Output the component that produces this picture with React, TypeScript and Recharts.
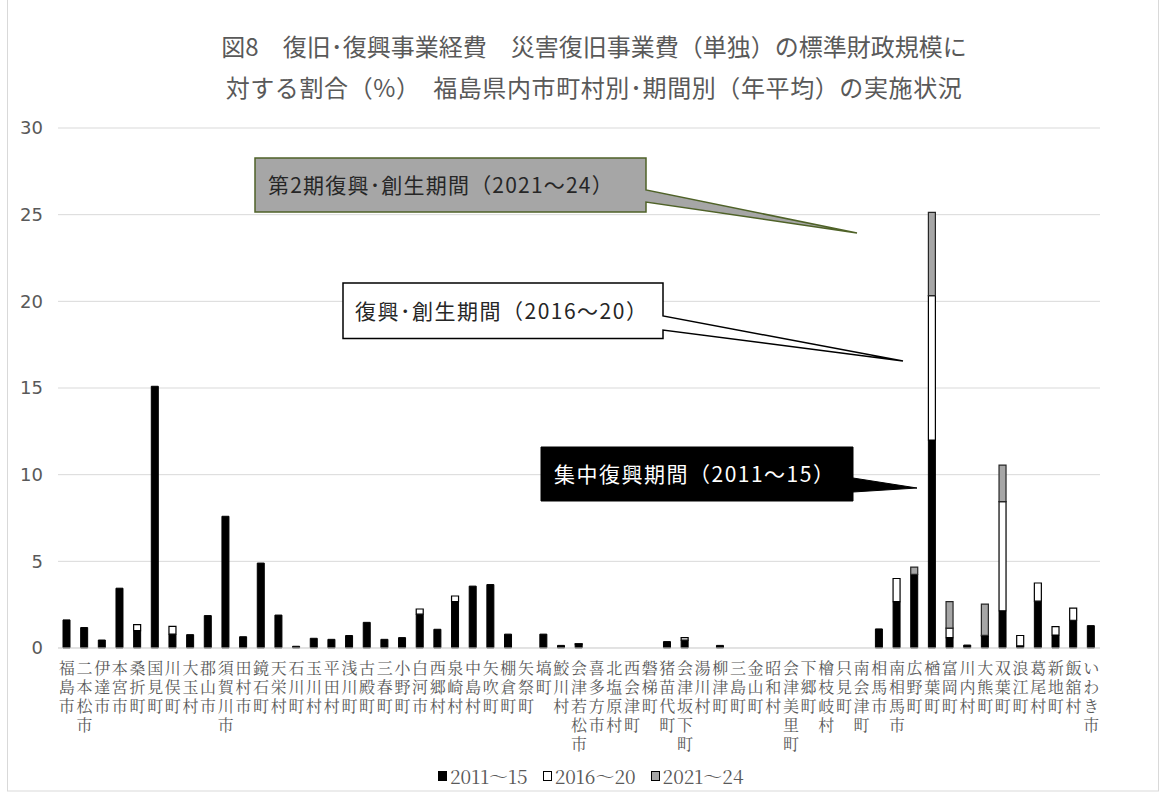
import React from 'react';
import { BarChart, Bar, XAxis, YAxis, CartesianGrid } from 'recharts';

// 市町村（X軸カテゴリ）
const municipalities = [
  '福島市', '二本松市', '伊達市', '本宮市', '桑折町', '国見町', '川俣町', '大玉村',
  '郡山市', '須賀川市', '田村市', '鏡石町', '天栄村', '石川町', '玉川村', '平田村',
  '浅川町', '古殿町', '三春町', '小野町', '白河市', '西郷村', '泉崎村', '中島村',
  '矢吹町', '棚倉町', '矢祭町', '塙町', '鮫川村', '会津若松市', '喜多方市', '北塩原村',
  '西会津町', '磐梯町', '猪苗代町', '会津坂下町', '湯川村', '柳津町', '三島町', '金山町',
  '昭和村', '会津美里町', '下郷町', '檜枝岐村', '只見町', '南会津町', '相馬市', '南相馬市',
  '広野町', '楢葉町', '富岡町', '川内村', '大熊町', '双葉町', '浪江町', '葛尾村',
  '新地町', '飯舘村', 'いわき市',
];

// 集中復興期間（2011～15）
const period2011 = [
  1.62, 1.18, 0.46, 3.45, 1.0, 15.1, 0.8, 0.77,
  1.87, 7.6, 0.65, 4.9, 1.9, 0.1, 0.56, 0.5,
  0.72, 1.48, 0.5, 0.6, 1.95, 1.08, 2.67, 3.57,
  3.66, 0.8, 0, 0.8, 0.15, 0.2, 0, 0,
  0, 0, 0.37, 0.45, 0, 0.15, 0, 0,
  0, 0, 0, 0, 0, 0, 1.1, 2.68,
  4.25, 12.0, 0.6, 0.17, 0.7, 2.15, 0.12, 2.7,
  0.75, 1.6, 1.29,
];

// 復興・創生期間（2016～20）
const period2016 = [
  0, 0, 0, 0, 0.35, 0, 0.45, 0,
  0, 0, 0, 0, 0, 0, 0, 0,
  0, 0, 0, 0, 0.3, 0, 0.33, 0,
  0, 0, 0, 0, 0, 0.05, 0, 0,
  0, 0, 0, 0.15, 0, 0, 0, 0,
  0, 0, 0, 0, 0, 0, 0, 1.33,
  0, 8.33, 0.55, 0, 0.03, 6.3, 0.6, 1.05,
  0.48, 0.7, 0,
];

// 第2期復興・創生期間（2021～24）
const period2021 = [
  0, 0, 0, 0, 0, 0, 0, 0,
  0, 0, 0, 0, 0, 0, 0, 0,
  0, 0, 0, 0, 0, 0, 0, 0,
  0, 0, 0, 0, 0, 0, 0, 0,
  0, 0, 0, 0, 0, 0, 0, 0,
  0, 0, 0, 0, 0, 0, 0, 0,
  0.42, 4.8, 1.52, 0, 1.8, 2.1, 0, 0,
  0, 0, 0,
];

const yTicks = [0, 5, 10, 15, 20, 25, 30];

const seriesLabels = ['2011～15', '2016～20', '2021～24'];

const titleLines = [
  '図8　復旧･復興事業経費　災害復旧事業費（単独）の標準財政規模に',
  '対する割合（%）　福島県内市町村別･期間別（年平均）の実施状況',
];

const calloutTexts = [
  '第2期復興･創生期間（2021～24）',
  '復興･創生期間（2016～20）',
  '集中復興期間（2011～15）',
];

const data = municipalities.map((name, i) => ({
  name,
  p2011: period2011[i],
  p2016: period2016[i],
  p2021: period2021[i],
}));

const GRAY_TEXT = '#595959';
const SANS = '"Noto Sans CJK JP", "Noto Sans", sans-serif';
const SERIF = '"Noto Serif CJK JP", "Liberation Serif", "Noto Sans CJK JP", serif';

// 市町村名を一文字ずつ縦に並べる
const VerticalTick = (props: any) => {
  const { x, y, payload } = props;
  const chars = Array.from(String(payload.value));
  return (
    <text x={x} y={y} textAnchor="middle" fill={GRAY_TEXT} fontSize={16} fontFamily={SERIF}>
      {chars.map((c, i) => (
        <tspan key={i} x={x} dy={i === 0 ? 26 : 19}>
          {c}
        </tspan>
      ))}
    </text>
  );
};

const legendFills = ['#000000', '#FFFFFF', '#A6A6A6'];

export default function App() {
  return (
    <div style={{ position: 'absolute', left: 0, top: 0, width: 1165, height: 796, background: '#fff' }}>
      <BarChart
        width={1165}
        height={796}
        data={data}
        barSize={7}
        margin={{ top: 128, right: 65, left: 0, bottom: 38 }}
      >
        <CartesianGrid vertical={false} stroke="#D9D9D9" strokeWidth={1} />
        <XAxis
          dataKey="name"
          interval={0}
          tickLine={false}
          tickSize={0}
          tickMargin={0}
          height={110}
          stroke="#D9D9D9"
          tick={<VerticalTick />}
        />
        <YAxis
          domain={[0, 30]}
          ticks={yTicks}
          width={58}
          axisLine={false}
          tickLine={false}
          tickSize={0}
          tickMargin={15}
          tick={{ fill: GRAY_TEXT, fontSize: 18, fontFamily: '"DejaVu Sans", sans-serif' }}
        />
        <Bar dataKey="p2011" stackId="a" fill="#000000" stroke="#000000" strokeWidth={1} isAnimationActive={false} />
        <Bar dataKey="p2016" stackId="a" fill="#FFFFFF" stroke="#000000" strokeWidth={1.2} isAnimationActive={false} />
        <Bar dataKey="p2021" stackId="a" fill="#A6A6A6" stroke="#262626" strokeWidth={1.2} isAnimationActive={false} />
      </BarChart>

      <svg
        width={1165}
        height={796}
        style={{ position: 'absolute', left: 0, top: 0, pointerEvents: 'none' }}
      >
        <rect x={7.5} y={-1} width={1151} height={792} fill="none" stroke="#D9D9D9" strokeWidth={1} />
        {titleLines.map((t, i) => (
          <text
            key={i}
            x={594}
            y={56 + i * 41}
            textAnchor="middle"
            fill={GRAY_TEXT}
            fontSize={24}
            letterSpacing={i === 1 ? 0.6 : 0}
            fontFamily={SANS}
          >
            {t}
          </text>
        ))}

        {/* 吹き出し：第2期復興・創生期間 */}
        <path
          d="M255,158 H646 V190 L857,233 L646,202 V212 H255 Z"
          fill="#A6A6A6"
          stroke="#4F6228"
          strokeWidth={1.5}
        />
        <text x={268} y={193} fill="#262626" fontSize={21} letterSpacing={1.2} fontFamily={SANS}>
          {calloutTexts[0]}
        </text>

        {/* 吹き出し：復興・創生期間 */}
        <path
          d="M343,283 H663 V316 L903,361 L663,330 V338.5 H343 Z"
          fill="#FFFFFF"
          stroke="#000000"
          strokeWidth={1.5}
        />
        <text x={355} y={319} fill="#262626" fontSize={21} letterSpacing={1.5} fontFamily={SANS}>
          {calloutTexts[1]}
        </text>

        {/* 吹き出し：集中復興期間 */}
        <path
          d="M541,447 H853 V478 L917,488 L853,492 V501 H541 Z"
          fill="#000000"
          stroke="#000000"
          strokeWidth={1}
        />
        <text x={554} y={482} fill="#FFFFFF" fontSize={21} letterSpacing={1.5} fontFamily={SANS}>
          {calloutTexts[2]}
        </text>
      </svg>

      <div
        style={{
          position: 'absolute',
          left: 438,
          top: 762,
          display: 'flex',
          alignItems: 'center',
          gap: 15,
          fontFamily: SERIF,
          fontSize: 19,
          color: GRAY_TEXT,
          whiteSpace: 'nowrap',
        }}
      >
        {seriesLabels.map((label, i) => (
          <div key={label} style={{ display: 'flex', alignItems: 'center', gap: 3 }}>
            <span
              style={{
                display: 'inline-block',
                width: 7,
                height: 8,
                background: legendFills[i],
                border: '1px solid #000',
              }}
            />
            <span>{label}</span>
          </div>
        ))}
      </div>
    </div>
  );
}
